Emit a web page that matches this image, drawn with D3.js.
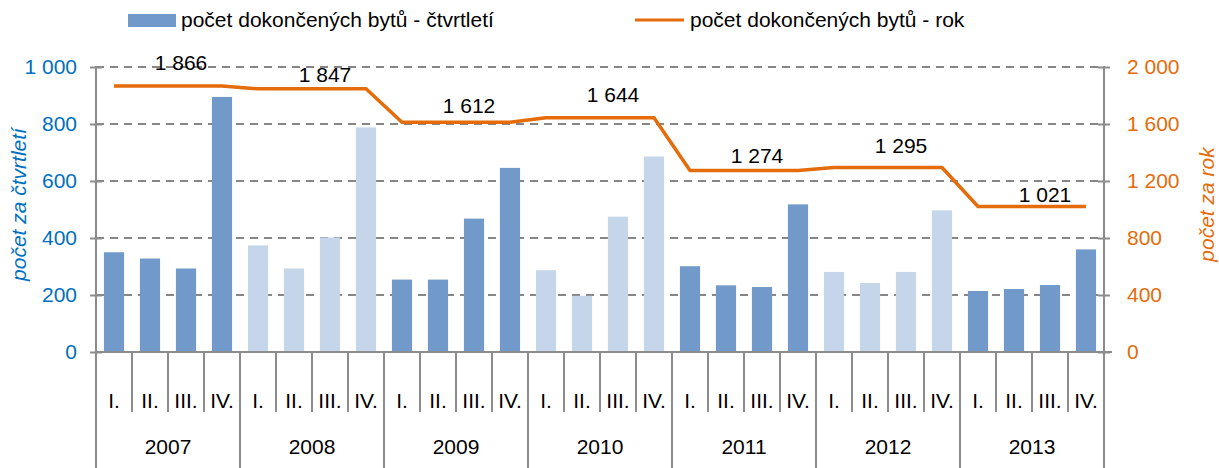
<!DOCTYPE html>
<html>
<head>
<meta charset="utf-8">
<script src="https://cdn.jsdelivr.net/npm/d3@7"></script>
<style>
  body { margin: 0; background: #fff; }
  svg text { font-family: "Liberation Sans", Arial, sans-serif; font-size: 21px; }
</style>
</head>
<body>
<div id="chart"></div>
<script>
// data
var years = ["2007", "2008", "2009", "2010", "2011", "2012", "2013"];
var quarters = ["I.", "II.", "III.", "IV."];
var quarterly = [350, 328, 293, 895,
                 374, 293, 402, 788,
                 254, 254, 468, 646,
                 287, 197, 475, 686,
                 301, 234, 228, 518,
                 281, 242, 281, 497,
                 214, 221, 235, 360];
var annual = [1866, 1847, 1612, 1644, 1274, 1295, 1021];
var leftTicks = [0, 200, 400, 600, 800, 1000];
var rightTicks = [0, 400, 800, 1200, 1600, 2000];
var legendNames = ["počet dokončených bytů - čtvrtletí", "počet dokončených bytů - rok"];

var width = 1219, height = 468;
var plotLeft = 96, plotRight = 1104, plotTop = 67, plotBottom = 352;

var darkBar = "#7199CA", lightBar = "#C5D5EA", orange = "#E46C0A", blue = "#0070C0";
var axisGray = "#8C8C8C";

var cz = d3.formatLocale({decimal: ",", thousands: "\u00a0", grouping: [3], currency: ["", ""]});
var fmt = cz.format(",d");

// one row per quarter
var rows = [];
years.forEach(function(y, yi) {
    quarters.forEach(function(q, qi) {
        rows.push({year: y, yi: yi, q: q, qi: qi, value: quarterly[yi * 4 + qi], annual: annual[yi]});
    });
});

var x = d3.scaleBand()
    .domain(d3.range(rows.length))
    .range([plotLeft, plotRight])
    .paddingInner(0.44)
    .paddingOuter(0.22);
var step = x.step();
var xc = function(i) { return x(i) + x.bandwidth() / 2; };

var yL = d3.scaleLinear().domain([0, 1000]).range([plotBottom, plotTop]);
var yR = d3.scaleLinear().domain([0, 2000]).range([plotBottom, plotTop]);

var svg = d3.select("#chart").append("svg")
    .attr("width", width)
    .attr("height", height);

// gridlines
svg.append("g")
    .selectAll("line")
    .data(leftTicks.filter(function(t) { return t > 0; }))
    .enter()
    .append("line")
    .attr("x1", plotLeft).attr("x2", plotRight)
    .attr("y1", function(d) { return yL(d); })
    .attr("y2", function(d) { return yL(d); })
    .attr("stroke", "#868686")
    .attr("stroke-width", 2)
    .attr("stroke-dasharray", "8,6");

// bars
svg.append("g")
    .selectAll("rect")
    .data(rows)
    .enter()
    .append("rect")
    .attr("x", function(d, i) { return x(i); })
    .attr("y", function(d) { return yL(d.value); })
    .attr("width", x.bandwidth())
    .attr("height", function(d) { return yL(0) - yL(d.value); })
    .attr("fill", function(d) { return d.yi % 2 == 0 ? darkBar : lightBar; });

// left axis
var yAxisL = d3.axisLeft(yL).tickValues(leftTicks).tickFormat(fmt).tickSize(6).tickPadding(13);
var gL = svg.append("g").attr("transform", "translate(" + plotLeft + ",0)").call(yAxisL);
gL.select(".domain").remove();
gL.selectAll(".tick line").attr("x2", 6).attr("x1", -6).attr("stroke", axisGray).attr("stroke-width", 2);
gL.selectAll(".tick text").attr("fill", blue).style("font-size", "21px")
    .style("font-family", "Liberation Sans, Arial, sans-serif");
gL.append("line").attr("x1", 0).attr("x2", 0).attr("y1", plotTop - 1).attr("y2", height)
    .attr("stroke", axisGray).attr("stroke-width", 2);

// right axis
var yAxisR = d3.axisRight(yR).tickValues(rightTicks).tickFormat(fmt).tickSize(6).tickPadding(17);
var gR = svg.append("g").attr("transform", "translate(" + plotRight + ",0)").call(yAxisR);
gR.select(".domain").remove();
gR.selectAll(".tick line").attr("x1", -6).attr("x2", 6).attr("stroke", axisGray).attr("stroke-width", 2);
gR.selectAll(".tick text").attr("fill", orange).style("font-size", "21px")
    .style("font-family", "Liberation Sans, Arial, sans-serif");
gR.append("line").attr("x1", 0).attr("x2", 0).attr("y1", plotTop - 1).attr("y2", height)
    .attr("stroke", axisGray).attr("stroke-width", 2);

// axis titles
svg.append("text")
    .attr("transform", "translate(26," + ((plotTop + plotBottom) / 2 - 5) + ") rotate(-90)")
    .attr("text-anchor", "middle")
    .style("font-style", "italic")
    .attr("fill", blue)
    .text("počet za čtvrtletí");
svg.append("text")
    .attr("transform", "translate(1214," + ((plotTop + plotBottom) / 2 - 5) + ") rotate(-90)")
    .attr("text-anchor", "middle")
    .style("font-style", "italic")
    .attr("fill", orange)
    .text("počet za rok");

// category axis: baseline, quarter and year separators
var cat = svg.append("g");
cat.append("line").attr("x1", plotLeft).attr("x2", plotRight + 8).attr("y1", plotBottom).attr("y2", plotBottom)
    .attr("stroke", axisGray).attr("stroke-width", 2);
cat.selectAll(".qsep")
    .data(rows.filter(function(d) { return d.qi > 0; }))
    .enter()
    .append("line")
    .attr("x1", function(d) { return x(d.yi * 4 + d.qi) - step * 0.22; })
    .attr("x2", function(d) { return x(d.yi * 4 + d.qi) - step * 0.22; })
    .attr("y1", plotBottom).attr("y2", 412)
    .attr("stroke", axisGray).attr("stroke-width", 2);
cat.selectAll(".ysep")
    .data(years.slice(1))
    .enter()
    .append("line")
    .attr("x1", function(d, i) { return x((i + 1) * 4) - step * 0.22; })
    .attr("x2", function(d, i) { return x((i + 1) * 4) - step * 0.22; })
    .attr("y1", plotBottom).attr("y2", height)
    .attr("stroke", axisGray).attr("stroke-width", 2);
cat.selectAll(".qlab")
    .data(rows)
    .enter()
    .append("text")
    .attr("x", function(d, i) { return xc(i); })
    .attr("y", 401)
    .attr("dy", "0.35em")
    .attr("text-anchor", "middle")
    .attr("fill", "#000")
    .text(function(d) { return d.q; });
cat.selectAll(".ylab")
    .data(years)
    .enter()
    .append("text")
    .attr("x", function(d, i) { return (xc(i * 4 + 1) + xc(i * 4 + 2)) / 2; })
    .attr("y", 447)
    .attr("dy", "0.35em")
    .attr("text-anchor", "middle")
    .attr("fill", "#000")
    .text(function(d) { return d; });

// annual line
var line = d3.line()
    .x(function(d, i) { return xc(i); })
    .y(function(d) { return yR(d.annual); });
svg.append("path")
    .datum(rows)
    .attr("d", line)
    .attr("fill", "none")
    .attr("stroke", orange)
    .attr("stroke-width", 3.5)
    .attr("stroke-linejoin", "round");

// value labels, lifted by hand like in the original
var labelLift = [23, 14, 17, 23, 15, 22, 12];
svg.append("g")
    .selectAll("text")
    .data(annual)
    .enter()
    .append("text")
    .attr("x", function(d, i) { return xc(i * 4 + 2) - 5; })
    .attr("y", function(d, i) { return yR(d) - labelLift[i]; })
    .attr("dy", "0.35em")
    .attr("text-anchor", "middle")
    .attr("fill", "#000")
    .text(function(d) { return fmt(d); });

// legend
var lg = svg.append("g");
lg.append("rect").attr("x", 128).attr("y", 14).attr("width", 48).attr("height", 13).attr("fill", darkBar);
lg.append("text").attr("x", 181).attr("y", 20).attr("dy", "0.35em").attr("fill", "#000").text(legendNames[0]);
lg.append("line").attr("x1", 635).attr("x2", 684).attr("y1", 20).attr("y2", 20)
    .attr("stroke", orange).attr("stroke-width", 3);
lg.append("text").attr("x", 690).attr("y", 20).attr("dy", "0.35em").attr("fill", "#000").text(legendNames[1]);
</script>
</body>
</html>
